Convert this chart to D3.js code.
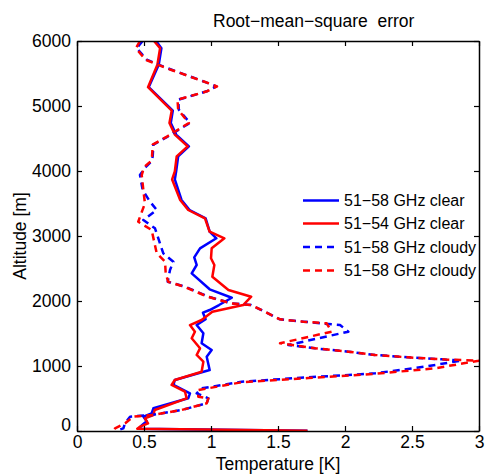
<!DOCTYPE html>
<html><head><meta charset="utf-8">
<script src="https://cdn.jsdelivr.net/npm/d3@7"></script>
<style>
body{margin:0;background:#fff;}
text{font-family:"Liberation Sans",Arial,sans-serif;fill:#000;}
</style></head>
<body>
<svg id="c" width="485" height="474"></svg>
<script>
// ---- data: [temperature K, altitude m] ----
const clear5158 = [[0.59,6000],[0.63,5890],[0.61,5635],[0.535,5290],[0.715,4930],[0.70,4740],[0.74,4560],[0.835,4380],[0.755,4225],[0.74,3995],[0.73,3870],[0.78,3555],[0.84,3400],[0.96,3270],[0.99,3066],[1.04,2965],[0.918,2810],[0.875,2672],[0.893,2554],[0.856,2426],[0.99,2180],[1.155,2050],[1.06,1938],[0.99,1861],[0.94,1820],[0.96,1720],[0.893,1630],[0.943,1503],[0.93,1349],[1.005,1246],[0.968,1143],[0.99,938],[0.73,785],[0.72,708],[0.843,580],[0.83,503],[0.57,349],[0.557,272],[0.495,221],[0.52,150],[0.48,80],[0.46,35],[1.72,5]];
const clear5154 = [[0.575,6000],[0.62,5890],[0.60,5635],[0.53,5290],[0.707,4930],[0.69,4740],[0.73,4560],[0.826,4380],[0.744,4225],[0.73,3995],[0.71,3870],[0.77,3555],[0.83,3400],[0.955,3270],[0.99,3066],[1.10,2965],[1.005,2810],[1.0,2657],[1.025,2554],[1.01,2374],[1.13,2170],[1.30,2066],[1.24,1938],[1.01,1835],[0.93,1708],[0.843,1630],[0.88,1528],[0.856,1426],[0.918,1272],[0.893,1170],[0.943,1066],[0.93,912],[0.73,785],[0.706,708],[0.806,605],[0.818,503],[0.58,323],[0.57,246],[0.507,195],[0.53,118],[0.47,66],[0.45,35],[1.72,5]];
const cloudy5158a = [[0.49,6000],[0.445,5890],[0.52,5713],[0.595,5646],[0.706,5558],[0.93,5389],[1.04,5302],[0.968,5226],[0.756,5097],[0.76,4943],[0.843,4738],[0.78,4662],[0.68,4534],[0.57,4405],[0.565,4226],[0.557,4149],[0.51,4057],[0.47,3938],[0.49,3708],[0.545,3528],[0.595,3400],[0.495,3246],[0.582,3118],[0.644,2733],[0.719,2605],[0.694,2477],[0.677,2297],[0.806,2220],[0.98,2066],[1.155,1964],[1.30,1938],[1.515,1718],[1.69,1682],[1.875,1646],[1.963,1630],[2.025,1528],[1.577,1323],[1.776,1272],[2.025,1220],[2.224,1170],[2.47,1133],[2.72,1103],[2.87,1085],[2.597,990],[2.224,887],[1.726,826],[1.229,759],[0.93,656],[0.893,580],[0.98,503],[0.968,426],[0.78,323],[0.557,246],[0.396,221],[0.358,118],[0.346,41],[0.30,8]];
const cloudy5158b = [[0.47,6000],[0.44,5890],[0.51,5713],[0.59,5646],[0.70,5558],[0.93,5389],[1.045,5302],[0.97,5226],[0.75,5097],[0.755,4943],[0.835,4738],[0.775,4662],[0.675,4534],[0.565,4405],[0.56,4226],[0.55,4149],[0.50,4057],[0.483,3938],[0.495,3708],[0.507,3503],[0.457,3220],[0.557,3092],[0.595,2733],[0.657,2605],[0.662,2426],[0.68,2297],[0.80,2220],[0.975,2066],[1.15,1964],[1.30,1938],[1.515,1718],[1.69,1682],[1.863,1656],[1.90,1528],[1.515,1349],[1.776,1272],[2.025,1220],[2.224,1170],[2.47,1133],[2.75,1100],[3.0,1082],[2.67,964],[2.224,880],[1.726,815],[1.229,750],[0.905,630],[0.905,528],[0.98,503],[0.968,426],[0.78,323],[0.557,246],[0.42,221],[0.36,118],[0.284,41],[0.27,8]];
const xTicks = [0,0.5,1,1.5,2,2.5,3];
const yTicks = [0,1000,2000,3000,4000,5000,6000];
const seriesNames = ["51\u221258 GHz clear","51\u221254 GHz clear","51\u221258 GHz cloudy","51\u221258 GHz cloudy"];
const seriesColors = ["#0000ff","#ff0000","#0000ff","#ff0000"];
const seriesDashed = [false,false,true,true];
const titleText = "Root\u2212mean\u2212square\u00a0\u00a0error";
const xLabel = "Temperature [K]";
const yLabel = "Altitude [m]";

const L=77,R=479,T=41,B=431;
const svg=d3.select("#c");
const x=d3.scaleLinear().domain([0,3]).range([L,R]);
const y=d3.scaleLinear().domain([0,6000]).range([B,T]);

svg.append("defs").append("clipPath").attr("id","clip").append("rect")
  .attr("x",L).attr("y",T).attr("width",R-L).attr("height",B-T);

const data=[clear5158,clear5154,cloudy5158a,cloudy5158b];
const line=d3.line().x(d=>x(d[0])).y(d=>y(d[1]));
const g=svg.append("g").attr("clip-path","url(#clip)");
data.forEach((s,i)=>{
  g.append("path").attr("d",line(s)).attr("fill","none")
   .attr("stroke",seriesColors[i]).attr("stroke-width",2.5)
   .attr("stroke-linejoin","round")
   .attr("stroke-dasharray",seriesDashed[i]?"7,5":null);
});

// axes (inward ticks, box)
const fs="17.5px";
const ax=svg.append("g").attr("transform",`translate(0,${B})`)
  .call(d3.axisBottom(x).tickValues(xTicks).tickFormat(d3.format("")).tickSizeInner(-5).tickSizeOuter(0).tickPadding(5));
const ay=svg.append("g").attr("transform",`translate(${L},0)`)
  .call(d3.axisLeft(y).tickValues(yTicks).tickFormat(d3.format("d")).tickSizeInner(-5).tickSizeOuter(0).tickPadding(6));
const at=svg.append("g").attr("transform",`translate(0,${T})`)
  .call(d3.axisTop(x).tickValues(xTicks).tickFormat("").tickSizeInner(-5).tickSizeOuter(0));
const ar=svg.append("g").attr("transform",`translate(${R},0)`)
  .call(d3.axisRight(y).tickValues(yTicks).tickFormat("").tickSizeInner(-5).tickSizeOuter(0));
[ax,ay,at,ar].forEach(a=>{
  a.select(".domain").attr("stroke","#000").attr("stroke-width",1.5);
  a.selectAll(".tick line").attr("stroke","#000").attr("stroke-width",1.2);
  a.selectAll("text").style("font-size",fs).style("font-family","'Liberation Sans',Arial,sans-serif").attr("fill","#000");
});
ay.selectAll(".tick").filter(d=>d===0).select("text").attr("dy","-0.05em");

svg.append("text").attr("x",213).attr("y",27).style("font-size","17.5px").text(titleText);
svg.append("text").attr("x",(L+R)/2).attr("y",470).attr("text-anchor","middle").style("font-size","17.5px").text(xLabel);
svg.append("text").attr("transform",`translate(26,${(T+B)/2}) rotate(-90)`).attr("text-anchor","middle").style("font-size","17.5px").text(yLabel);

// legend
const ly=[200.5,223.5,247,270.5];
seriesNames.forEach((n,i)=>{
  svg.append("line").attr("x1",303).attr("x2",339).attr("y1",ly[i]).attr("y2",ly[i])
    .attr("stroke",seriesColors[i]).attr("stroke-width",2.5)
    .attr("stroke-dasharray",seriesDashed[i]?"7,5":null);
  svg.append("text").attr("x",344).attr("y",ly[i]).attr("dy","0.35em").style("font-size","16px").text(n);
});
</script>
</body></html>
